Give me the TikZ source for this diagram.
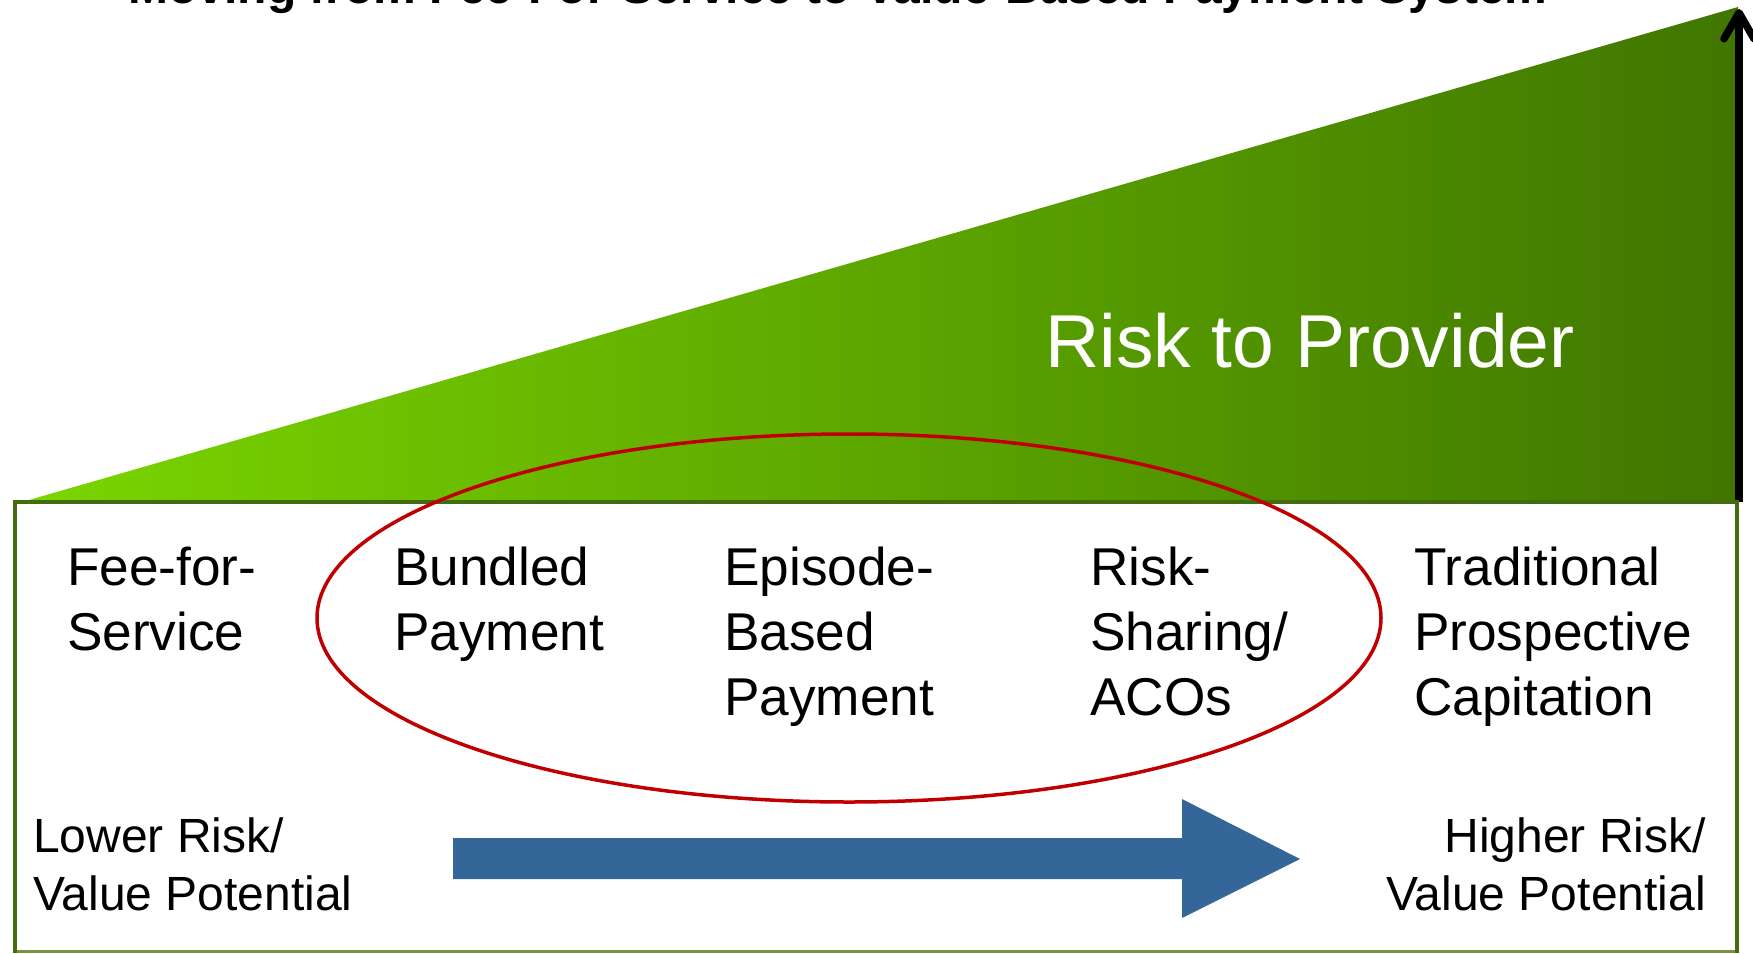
\documentclass[tikz,border=0pt]{standalone}
\usepackage{fontspec}
\setmainfont{Liberation Sans}
\usetikzlibrary{arrows.meta,shapes.geometric}

\definecolor{lightgreen}{RGB}{122,214,0}
\definecolor{darkgreen}{RGB}{64,118,0}
\definecolor{frameline}{RGB}{66,108,16}
\definecolor{framebottom}{RGB}{119,147,60}
\definecolor{ovalred}{RGB}{192,0,0}
\definecolor{flowblue}{RGB}{52,102,153}

\tikzset{
  frame/.style={draw=frameline, line width=4.5pt},
  payment/.style={anchor=base west, inner sep=0pt,
    font=\fontsize{53.2}{65}\selectfont},
  risklabel/.style={inner sep=0pt, font=\fontsize{48}{58}\selectfont},
  oval/.style={ellipse, draw=ovalred, line width=3.5pt, inner sep=0pt},
}

\begin{document}
\begin{tikzpicture}[x=1pt, y=-1pt]
  \useasboundingbox (0,0) rectangle (1753,953);
  \clip (0,0) rectangle (1753,953);

  % title, cut by the page edge
  \node[anchor=base, inner sep=0pt, font=\fontsize{48}{56}\selectfont\bfseries]
    (title) at (838,4) {Moving from Fee-For-Service to Value-Based Payment System};

  % rising risk wedge
  \shade[left color=lightgreen, right color=darkgreen]
    (22,502) -- (1738,7) -- (1738,502) -- cycle;
  \node[anchor=base west, inner sep=0pt, text=white,
        font=\fontsize{75}{88}\selectfont] (risk) at (1045,367) {Risk to Provider};

  % vertical risk axis
  \coordinate (axisbase) at (1739,502);
  \coordinate (axistop) at (1739,9);
  \draw[line width=7.5pt, -{Straight Barb[length=26pt, width=30pt, round]}]
    (axisbase) -- (axistop);

  % frame around the payment models
  \draw[framebottom, line width=3pt] (15,951) -- (1737,951);
  \draw[frame] (15,953) -- (15,502) -- (1737,502) -- (1737,953);

  % payment models
  \node[payment] (ffs) at (67,585)
    {\begin{tabular}[t]{@{}l@{}}Fee-for-\\Service\end{tabular}};
  \node[payment] (bundled) at (394,585)
    {\begin{tabular}[t]{@{}l@{}}Bundled\\Payment\end{tabular}};
  \node[payment] (episode) at (724,585)
    {\begin{tabular}[t]{@{}l@{}}Episode-\\Based\\Payment\end{tabular}};
  \node[payment] (aco) at (1090,585)
    {\begin{tabular}[t]{@{}l@{}}Risk-\\Sharing/\\ACOs\end{tabular}};
  \node[payment] (capitation) at (1414,585)
    {\begin{tabular}[t]{@{}l@{}}Traditional\\Prospective\\Capitation\end{tabular}};

  % grouping oval around the middle models
  \node[oval, minimum width=1064pt, minimum height=368pt] (group) at (849,618) {};

  % risk scale
  \node[risklabel, anchor=base west] (lower) at (33,852)
    {\begin{tabular}[t]{@{}l@{}}Lower Risk/\\Value Potential\end{tabular}};
  \node[risklabel, anchor=base east] (higher) at (1706,852)
    {\begin{tabular}[t]{@{}r@{}}Higher Risk/\\Value Potential\end{tabular}};

  \fill[flowblue] (453,838) -- (1182,838) -- (1182,799) -- (1300,859)
    -- (1182,918) -- (1182,879) -- (453,879) -- cycle;
\end{tikzpicture}
\end{document}
